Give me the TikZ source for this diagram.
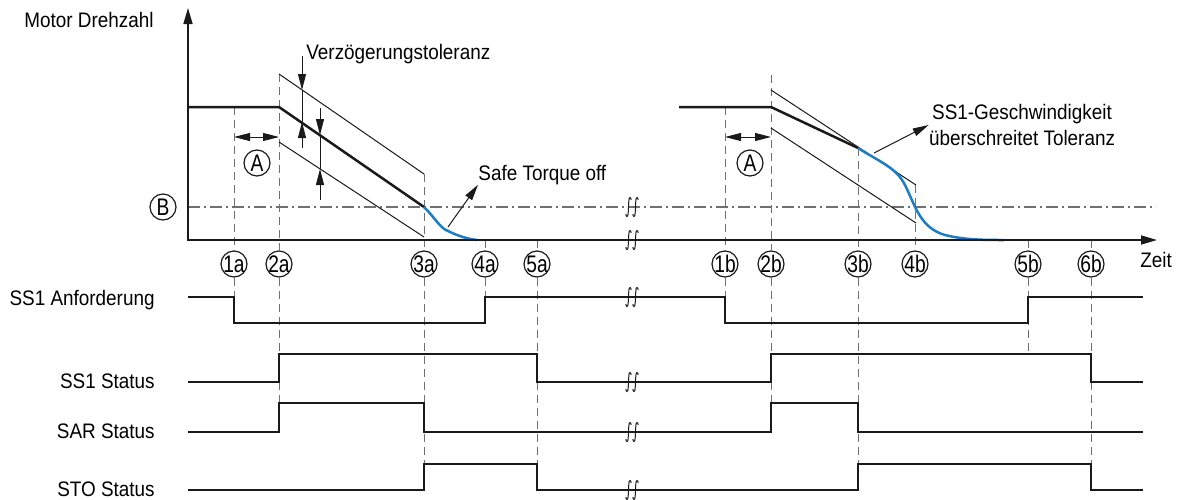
\documentclass[tikz,border=0pt]{standalone}
\usepackage{fontspec}
\setmainfont{Liberation Sans}[FakeStretch=0.9]
\newfontfamily\tagfont{Liberation Sans}[FakeStretch=0.8]
\usetikzlibrary{arrows.meta,positioning}
\definecolor{ink}{HTML}{1A1A1A}
\definecolor{sblue}{HTML}{1C7DC4}
\definecolor{guidegray}{HTML}{707070}
\tikzset{txt/.style={font=\fontsize{10.5}{13}\selectfont,inner sep=0pt},
  tag/.style={circle,draw=ink,line width=.6pt,inner sep=-.8pt,minimum size=13pt,
    font=\tagfont\fontsize{12}{12}\selectfont},
  helper/.style={draw=guidegray,line width=.5pt,dash pattern=on 4pt off 2.5pt},
  chain/.style={draw=guidegray,line width=.6pt,dash pattern=on 6pt off 2pt on 1pt off 2pt},
  sig/.style={draw=ink,line width=1.25pt},
  tol/.style={draw=ink,line width=.5pt},
  dimarrow/.style={tol,-{Triangle[length=8pt,width=4pt]}},
  brk/.pic={\foreach \d in {-3.5,3.5}
    \draw[ink,line width=.5pt] (\d-2.6,7) .. controls (\d-2.6,10.5) and (\d-.4,10.5) .. (\d-.3,6)
      -- (\d+.3,-6) .. controls (\d+.4,-10.5) and (\d+2.6,-10.5) .. (\d+2.6,-7);}}

\begin{document}
\begin{tikzpicture}[x=.5pt,y=-.5pt]
\useasboundingbox (0,0) rectangle (1189,499);
\fill[white] (0,0) rectangle (1189,499);

% Time marks on the axis.
\foreach \x/\n in {234/1a,279/2a,424/3a,485/4a,537/5a,725/1b,771/2b,858/3b,915/4b,1028/5b,1091/6b}
  \node[tag] (l\n) at (\x,264) {\n};
\foreach \n/\ytop in {1a/107,2a/74,3a/174,4a/240,5a/240,1b/107,2b/75,3b/148,4b/185,5b/240,6b/240}
  \draw[helper] (l\n.north |- 0,\ytop) -- (l\n.north);
\foreach \n/\ybot in {1a/297,2a/432,3a/464,4a/297,5a/464,1b/297,2b/432,3b/464,5b/354,6b/464}
  \draw[helper] (l\n.south) -- (l\n.south |- 0,\ybot);

% Standstill threshold.
\node[tag] (lB) at (163,207) {B};
\draw[chain] (188,207) -- (1156,207);

% Deceleration ramp with tolerance band, first run.
\draw[tol] (279,74) -- (424,174);
\draw[tol] (279,142) -- (424,237);
\draw[sig] (188,107) -- (279,107) -- (424,207);
\draw[sblue,line width=1.25pt] (424,207) .. controls (436,219) and (440,228) .. (448,231)
  .. controls (458,236) and (468,239) .. (477,240);
\draw[sig] (477,240) -- (570,240);

% Second run: speed leaves the band.
\draw[tol] (771,90) -- (916,185);
\draw[tol] (771,128) -- (916,223);
\draw[sig] (679,107) -- (771,107) -- (858,148);
\draw[sblue,line width=1.25pt] (858,148) .. controls (878,161) and (896,167) .. (905,185)
  .. controls (915,205) and (920,228) .. (945,235)
  .. controls (965,240) and (985,240) .. (1004,240);
\draw[sig] (1004,240) -- (1101,240);

% Delay A.
\foreach \x/\y in {257/163,750/163}
  \node[tag] (lA\x) at (\x,\y) {A};
\draw[tol,{Triangle[length=8pt,width=4pt]}-{Triangle[length=8pt,width=4pt]}] (l1a.north |- 0,137) -- (l2a.north |- 0,137);
\draw[tol,{Triangle[length=8pt,width=4pt]}-{Triangle[length=8pt,width=4pt]}] (l1b.north |- 0,137) -- (l2b.north |- 0,137);

% Tolerance dimensions.
\node[txt,anchor=base west] (tolnote) at (306,59) {Verzögerungstoleranz};
\draw[dimarrow] (302,56) -- (302,90);
\draw[tol] (302,90) -- (302,122);
\draw[dimarrow] (302,148) -- (302,122);
\draw[dimarrow] (320,108) -- (320,135);
\draw[tol] (320,135) -- (320,169);
\draw[dimarrow] (320,200) -- (320,169);

% Callouts.
\node[txt,anchor=base west] (stonote) at (478,180) {Safe Torque off};
\draw[dimarrow] (448,227) -- (stonote.south west);
\node[txt,anchor=north,align=center] (limnote) at (1022,104) {SS1-Geschwindigkeit\\überschreitet Toleranz};
\draw[dimarrow] (874,153) -- (limnote.west |- 0,125);

% Axes.
\draw[ink,line width=.8pt,{Triangle[length=8pt,width=4.5pt]}-{Triangle[length=8pt,width=4.5pt]}] (188,8) |- (1157,240);
\node[txt,anchor=base west] (yname) at (24,27) {Motor Drehzahl};
\node[txt,anchor=base west] (xname) at (1140,267) {Zeit};

% Signals.
\node[txt,anchor=base east] (nreq) at (155,305) {SS1 Anforderung};
\node[txt,anchor=base east] (nss1) at (155,388) {SS1 Status};
\node[txt,anchor=base east] (nsar) at (155,438) {SAR Status};
\node[txt,anchor=base east] (nsto) at (155,496) {STO Status};
\draw[sig] (188,297) -| (234,323) -| (485,297) -| (725,323) -| (1028,297) -- (1143,297);
\draw[sig] (188,382) -| (279,354) -| (537,382) -| (771,354) -| (1091,382) -- (1143,382);
\draw[sig] (188,432) -| (279,403) -| (424,432) -| (771,403) -| (858,432) -- (1143,432);
\draw[sig] (188,490) -| (424,464) -| (537,490) -| (858,464) -| (1091,490) -- (1143,490);

% Time breaks.
\foreach \y in {207,240,297,382,432,490}
  \pic at (632,\y) {brk};
\end{tikzpicture}
\end{document}
